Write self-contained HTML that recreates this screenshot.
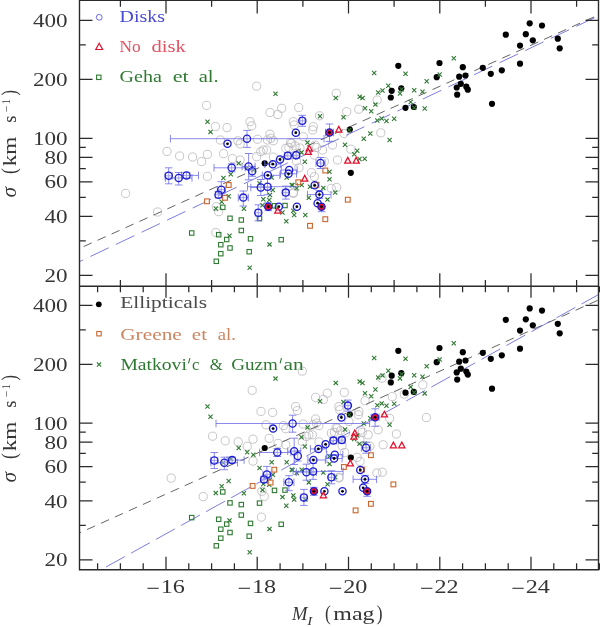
<!DOCTYPE html>
<html><head><meta charset="utf-8"><title>sigma vs M_I</title>
<style>
html,body{margin:0;padding:0;background:#fff;}
body{width:600px;height:627px;overflow:hidden;}
svg{display:block;font-family:"Liberation Serif",serif;}
</style></head><body>
<svg width="600" height="627" viewBox="0 0 600 627">
<rect width="600" height="627" fill="#fff"/>
<defs>
<clipPath id="c1"><rect x="79.5" y="0.4" width="519.0" height="285.8"/></clipPath>
<clipPath id="c2"><rect x="79.5" y="286.2" width="519.0" height="283.50000000000006"/></clipPath>
</defs>
<g clip-path="url(#c1)">
<circle cx="206.6" cy="105.4" r="4.1" fill="none" stroke="#b9b6bb" stroke-width="0.8"/>
<circle cx="215.4" cy="126.6" r="4.1" fill="none" stroke="#b9b6bb" stroke-width="0.8"/>
<circle cx="227.0" cy="127.6" r="4.1" fill="none" stroke="#b9b6bb" stroke-width="0.8"/>
<circle cx="220.4" cy="140.0" r="4.1" fill="none" stroke="#b9b6bb" stroke-width="0.8"/>
<circle cx="167.0" cy="151.4" r="4.1" fill="none" stroke="#b9b6bb" stroke-width="0.8"/>
<circle cx="179.6" cy="156.0" r="4.1" fill="none" stroke="#b9b6bb" stroke-width="0.8"/>
<circle cx="192.6" cy="157.0" r="4.1" fill="none" stroke="#b9b6bb" stroke-width="0.8"/>
<circle cx="207.4" cy="154.4" r="4.1" fill="none" stroke="#b9b6bb" stroke-width="0.8"/>
<circle cx="223.6" cy="153.6" r="4.1" fill="none" stroke="#b9b6bb" stroke-width="0.8"/>
<circle cx="201.6" cy="161.6" r="4.1" fill="none" stroke="#b9b6bb" stroke-width="0.8"/>
<circle cx="207.4" cy="176.4" r="4.1" fill="none" stroke="#b9b6bb" stroke-width="0.8"/>
<circle cx="125.6" cy="193.4" r="4.1" fill="none" stroke="#b9b6bb" stroke-width="0.8"/>
<circle cx="157.6" cy="212.0" r="4.1" fill="none" stroke="#b9b6bb" stroke-width="0.8"/>
<circle cx="256.7" cy="86.2" r="4.1" fill="none" stroke="#b9b6bb" stroke-width="0.8"/>
<circle cx="281.7" cy="108.3" r="4.1" fill="none" stroke="#b9b6bb" stroke-width="0.8"/>
<circle cx="298.7" cy="107.5" r="4.1" fill="none" stroke="#b9b6bb" stroke-width="0.8"/>
<circle cx="270.0" cy="112.5" r="4.1" fill="none" stroke="#b9b6bb" stroke-width="0.8"/>
<circle cx="277.8" cy="114.5" r="4.1" fill="none" stroke="#b9b6bb" stroke-width="0.8"/>
<circle cx="319.5" cy="115.8" r="4.1" fill="none" stroke="#b9b6bb" stroke-width="0.8"/>
<circle cx="250.0" cy="121.7" r="4.1" fill="none" stroke="#b9b6bb" stroke-width="0.8"/>
<circle cx="251.7" cy="125.8" r="4.1" fill="none" stroke="#b9b6bb" stroke-width="0.8"/>
<circle cx="313.3" cy="126.7" r="4.1" fill="none" stroke="#b9b6bb" stroke-width="0.8"/>
<circle cx="294.2" cy="125.0" r="4.1" fill="none" stroke="#b9b6bb" stroke-width="0.8"/>
<circle cx="270.0" cy="134.2" r="4.1" fill="none" stroke="#b9b6bb" stroke-width="0.8"/>
<circle cx="270.8" cy="138.3" r="4.1" fill="none" stroke="#b9b6bb" stroke-width="0.8"/>
<circle cx="267.5" cy="140.0" r="4.1" fill="none" stroke="#b9b6bb" stroke-width="0.8"/>
<circle cx="273.3" cy="140.8" r="4.1" fill="none" stroke="#b9b6bb" stroke-width="0.8"/>
<circle cx="257.5" cy="139.2" r="4.1" fill="none" stroke="#b9b6bb" stroke-width="0.8"/>
<circle cx="237.8" cy="140.8" r="4.1" fill="none" stroke="#b9b6bb" stroke-width="0.8"/>
<circle cx="303.3" cy="136.7" r="4.1" fill="none" stroke="#b9b6bb" stroke-width="0.8"/>
<circle cx="291.7" cy="143.3" r="4.1" fill="none" stroke="#b9b6bb" stroke-width="0.8"/>
<circle cx="295.0" cy="145.8" r="4.1" fill="none" stroke="#b9b6bb" stroke-width="0.8"/>
<circle cx="263.3" cy="150.0" r="4.1" fill="none" stroke="#b9b6bb" stroke-width="0.8"/>
<circle cx="260.8" cy="151.7" r="4.1" fill="none" stroke="#b9b6bb" stroke-width="0.8"/>
<circle cx="256.7" cy="156.7" r="4.1" fill="none" stroke="#b9b6bb" stroke-width="0.8"/>
<circle cx="273.4" cy="157.1" r="4.1" fill="none" stroke="#b9b6bb" stroke-width="0.8"/>
<circle cx="285.8" cy="148.3" r="4.1" fill="none" stroke="#b9b6bb" stroke-width="0.8"/>
<circle cx="316.7" cy="147.5" r="4.1" fill="none" stroke="#b9b6bb" stroke-width="0.8"/>
<circle cx="322.5" cy="150.0" r="4.1" fill="none" stroke="#b9b6bb" stroke-width="0.8"/>
<circle cx="240.2" cy="143.9" r="4.1" fill="none" stroke="#b9b6bb" stroke-width="0.8"/>
<circle cx="232.5" cy="158.6" r="4.1" fill="none" stroke="#b9b6bb" stroke-width="0.8"/>
<circle cx="346.7" cy="111.7" r="4.1" fill="none" stroke="#b9b6bb" stroke-width="0.8"/>
<circle cx="380.8" cy="132.8" r="4.1" fill="none" stroke="#b9b6bb" stroke-width="0.8"/>
<circle cx="332.5" cy="145.0" r="4.1" fill="none" stroke="#b9b6bb" stroke-width="0.8"/>
<circle cx="350.8" cy="149.2" r="4.1" fill="none" stroke="#b9b6bb" stroke-width="0.8"/>
<circle cx="337.5" cy="160.0" r="4.1" fill="none" stroke="#b9b6bb" stroke-width="0.8"/>
<circle cx="336.7" cy="187.5" r="4.1" fill="none" stroke="#b9b6bb" stroke-width="0.8"/>
<circle cx="331.3" cy="188.3" r="4.1" fill="none" stroke="#b9b6bb" stroke-width="0.8"/>
<circle cx="293.3" cy="121.7" r="4.1" fill="none" stroke="#b9b6bb" stroke-width="0.8"/>
<circle cx="336.3" cy="93.3" r="4.1" fill="none" stroke="#b9b6bb" stroke-width="0.8"/>
<circle cx="377.2" cy="100.0" r="4.1" fill="none" stroke="#b9b6bb" stroke-width="0.8"/>
<circle cx="358.7" cy="109.2" r="4.1" fill="none" stroke="#b9b6bb" stroke-width="0.8"/>
<circle cx="218.7" cy="211.7" r="4.1" fill="none" stroke="#b9b6bb" stroke-width="0.8"/>
<circle cx="215.8" cy="232.5" r="4.1" fill="none" stroke="#b9b6bb" stroke-width="0.8"/>
<circle cx="216.3" cy="206.7" r="4.1" fill="none" stroke="#b9b6bb" stroke-width="0.8"/>
<circle cx="293.3" cy="193.3" r="4.1" fill="none" stroke="#b9b6bb" stroke-width="0.8"/>
<circle cx="300.0" cy="148.0" r="4.1" fill="none" stroke="#b9b6bb" stroke-width="0.8"/>
<circle cx="315.0" cy="145.2" r="4.1" fill="none" stroke="#b9b6bb" stroke-width="0.8"/>
<circle cx="314.4" cy="176.7" r="4.1" fill="none" stroke="#b9b6bb" stroke-width="0.8"/>
<circle cx="293.4" cy="192.6" r="4.1" fill="none" stroke="#b9b6bb" stroke-width="0.8"/>
<circle cx="299.0" cy="167.8" r="4.1" fill="none" stroke="#b9b6bb" stroke-width="0.8"/>
<circle cx="311.5" cy="172.6" r="4.1" fill="none" stroke="#b9b6bb" stroke-width="0.8"/>
<circle cx="296.5" cy="161.0" r="4.1" fill="none" stroke="#b9b6bb" stroke-width="0.8"/>
<circle cx="266.7" cy="150.0" r="4.1" fill="none" stroke="#b9b6bb" stroke-width="0.8"/>
<circle cx="288.8" cy="147.5" r="4.1" fill="none" stroke="#b9b6bb" stroke-width="0.8"/>
<circle cx="314.4" cy="155.1" r="4.1" fill="none" stroke="#b9b6bb" stroke-width="0.8"/>
<circle cx="324.3" cy="161.5" r="4.1" fill="none" stroke="#b9b6bb" stroke-width="0.8"/>
<circle cx="344.0" cy="133.5" r="4.1" fill="none" stroke="#b9b6bb" stroke-width="0.8"/>
<circle cx="312.7" cy="130.0" r="4.1" fill="none" stroke="#b9b6bb" stroke-width="0.8"/>
<circle cx="240.2" cy="160.0" r="4.1" fill="none" stroke="#b9b6bb" stroke-width="0.8"/>
<circle cx="290.5" cy="142.8" r="4.1" fill="none" stroke="#b9b6bb" stroke-width="0.8"/>
<line x1="80" y1="248.2" x2="600.5" y2="14.0" stroke="#3c3c3c" stroke-width="0.8" stroke-dasharray="8.8 6.5" stroke-dashoffset="-4"/>
<line x1="80" y1="261.4" x2="600.5" y2="14.9" stroke="#5858d4" stroke-width="0.78" stroke-dasharray="20.3 8" stroke-dashoffset="16.8"/>
<circle cx="529.7" cy="23.3" r="3.1" fill="#000"/>
<circle cx="542.0" cy="25.5" r="3.1" fill="#000"/>
<circle cx="505.8" cy="34.7" r="3.1" fill="#000"/>
<circle cx="525.8" cy="34.2" r="3.1" fill="#000"/>
<circle cx="532.8" cy="40.3" r="3.1" fill="#000"/>
<circle cx="520.0" cy="45.6" r="3.1" fill="#000"/>
<circle cx="557.8" cy="38.7" r="3.1" fill="#000"/>
<circle cx="559.7" cy="48.3" r="3.1" fill="#000"/>
<circle cx="520.0" cy="63.7" r="3.1" fill="#000"/>
<circle cx="501.8" cy="70.3" r="3.1" fill="#000"/>
<circle cx="439.5" cy="63.0" r="3.1" fill="#000"/>
<circle cx="462.8" cy="67.2" r="3.1" fill="#000"/>
<circle cx="482.8" cy="67.8" r="3.1" fill="#000"/>
<circle cx="490.8" cy="73.8" r="3.1" fill="#000"/>
<circle cx="436.7" cy="77.2" r="3.1" fill="#000"/>
<circle cx="459.2" cy="76.7" r="3.1" fill="#000"/>
<circle cx="465.5" cy="75.5" r="3.1" fill="#000"/>
<circle cx="460.8" cy="83.8" r="3.1" fill="#000"/>
<circle cx="456.7" cy="87.5" r="3.1" fill="#000"/>
<circle cx="466.3" cy="86.7" r="3.1" fill="#000"/>
<circle cx="467.8" cy="89.7" r="3.1" fill="#000"/>
<circle cx="457.2" cy="94.7" r="3.1" fill="#000"/>
<circle cx="492.0" cy="103.8" r="3.1" fill="#000"/>
<circle cx="398.3" cy="65.8" r="3.1" fill="#000"/>
<circle cx="391.7" cy="90.8" r="3.1" fill="#000"/>
<circle cx="390.8" cy="97.5" r="3.1" fill="#000"/>
<circle cx="401.3" cy="88.3" r="3.1" fill="#000"/>
<circle cx="405.5" cy="107.8" r="3.1" fill="#000"/>
<circle cx="413.8" cy="107.0" r="3.1" fill="#000"/>
<circle cx="349.8" cy="129.5" r="3.1" fill="#000"/>
<circle cx="350.8" cy="172.8" r="3.1" fill="#000"/>
<circle cx="264.7" cy="163.3" r="3.1" fill="#000"/>
<path d="M205.4 119.6L209.6 123.8M205.4 123.8L209.6 119.6" stroke="#2f7a32" stroke-width="1.1" fill="none"/>
<path d="M208.4 129.8L212.6 134.0M208.4 134.0L212.6 129.8" stroke="#2f7a32" stroke-width="1.1" fill="none"/>
<path d="M221.3 175.9L225.5 180.1M221.3 180.1L225.5 175.9" stroke="#2f7a32" stroke-width="1.1" fill="none"/>
<path d="M236.6 161.2L240.8 165.4M236.6 165.4L240.8 161.2" stroke="#2f7a32" stroke-width="1.1" fill="none"/>
<path d="M228.7 172.1L232.9 176.3M228.7 176.3L232.9 172.1" stroke="#2f7a32" stroke-width="1.1" fill="none"/>
<path d="M226.6 194.2L230.8 198.4M226.6 198.4L230.8 194.2" stroke="#2f7a32" stroke-width="1.1" fill="none"/>
<path d="M219.6 199.6L223.8 203.8M219.6 203.8L223.8 199.6" stroke="#2f7a32" stroke-width="1.1" fill="none"/>
<path d="M257.4 181.2L261.6 185.4M257.4 185.4L261.6 181.2" stroke="#2f7a32" stroke-width="1.1" fill="none"/>
<path d="M269.6 175.4L273.8 179.6M269.6 179.6L273.8 175.4" stroke="#2f7a32" stroke-width="1.1" fill="none"/>
<path d="M270.7 187.9L274.9 192.1M270.7 192.1L274.9 187.9" stroke="#2f7a32" stroke-width="1.1" fill="none"/>
<path d="M267.9 192.9L272.1 197.1M267.9 197.1L272.1 192.9" stroke="#2f7a32" stroke-width="1.1" fill="none"/>
<path d="M261.2 197.2L265.4 201.4M261.2 201.4L265.4 197.2" stroke="#2f7a32" stroke-width="1.1" fill="none"/>
<path d="M267.1 197.9L271.3 202.1M267.1 202.1L271.3 197.9" stroke="#2f7a32" stroke-width="1.1" fill="none"/>
<path d="M284.6 175.4L288.8 179.6M284.6 179.6L288.8 175.4" stroke="#2f7a32" stroke-width="1.1" fill="none"/>
<path d="M290.4 183.2L294.6 187.4M290.4 187.4L294.6 183.2" stroke="#2f7a32" stroke-width="1.1" fill="none"/>
<path d="M294.6 186.1L298.8 190.3M294.6 190.3L298.8 186.1" stroke="#2f7a32" stroke-width="1.1" fill="none"/>
<path d="M251.2 167.9L255.4 172.1M251.2 172.1L255.4 167.9" stroke="#2f7a32" stroke-width="1.1" fill="none"/>
<path d="M245.1 165.4L249.3 169.6M245.1 169.6L249.3 165.4" stroke="#2f7a32" stroke-width="1.1" fill="none"/>
<path d="M213.7 206.4L217.9 210.6M213.7 210.6L217.9 206.4" stroke="#2f7a32" stroke-width="1.1" fill="none"/>
<path d="M241.8 206.6L246.0 210.8M241.8 210.8L246.0 206.6" stroke="#2f7a32" stroke-width="1.1" fill="none"/>
<path d="M317.9 114.2L322.1 118.4M317.9 118.4L322.1 114.2" stroke="#2f7a32" stroke-width="1.1" fill="none"/>
<path d="M341.4 115.1L345.6 119.3M341.4 119.3L345.6 115.1" stroke="#2f7a32" stroke-width="1.1" fill="none"/>
<path d="M369.1 109.2L373.3 113.4M369.1 113.4L373.3 109.2" stroke="#2f7a32" stroke-width="1.1" fill="none"/>
<path d="M375.2 118.4L379.4 122.6M375.2 122.6L379.4 118.4" stroke="#2f7a32" stroke-width="1.1" fill="none"/>
<path d="M379.6 116.4L383.8 120.6M379.6 120.6L383.8 116.4" stroke="#2f7a32" stroke-width="1.1" fill="none"/>
<path d="M384.4 118.9L388.6 123.1M384.4 123.1L388.6 118.9" stroke="#2f7a32" stroke-width="1.1" fill="none"/>
<path d="M368.2 131.4L372.4 135.6M368.2 135.6L372.4 131.4" stroke="#2f7a32" stroke-width="1.1" fill="none"/>
<path d="M361.7 136.6L365.9 140.8M361.7 140.8L365.9 136.6" stroke="#2f7a32" stroke-width="1.1" fill="none"/>
<path d="M387.5 137.9L391.7 142.1M387.5 142.1L391.7 137.9" stroke="#2f7a32" stroke-width="1.1" fill="none"/>
<path d="M342.9 142.6L347.1 146.8M342.9 146.8L347.1 142.6" stroke="#2f7a32" stroke-width="1.1" fill="none"/>
<path d="M355.1 148.7L359.3 152.9M355.1 152.9L359.3 148.7" stroke="#2f7a32" stroke-width="1.1" fill="none"/>
<path d="M352.1 152.1L356.3 156.3M352.1 156.3L356.3 152.1" stroke="#2f7a32" stroke-width="1.1" fill="none"/>
<path d="M357.4 156.9L361.6 161.1M357.4 161.1L361.6 156.9" stroke="#2f7a32" stroke-width="1.1" fill="none"/>
<path d="M362.6 156.7L366.8 160.9M362.6 160.9L366.8 156.7" stroke="#2f7a32" stroke-width="1.1" fill="none"/>
<path d="M305.4 140.5L309.6 144.7M305.4 144.7L309.6 140.5" stroke="#2f7a32" stroke-width="1.1" fill="none"/>
<path d="M299.4 150.3L303.6 154.5M299.4 154.5L303.6 150.3" stroke="#2f7a32" stroke-width="1.1" fill="none"/>
<path d="M302.7 159.7L306.9 163.9M302.7 163.9L306.9 159.7" stroke="#2f7a32" stroke-width="1.1" fill="none"/>
<path d="M327.4 169.6L331.6 173.8M327.4 173.8L331.6 169.6" stroke="#2f7a32" stroke-width="1.1" fill="none"/>
<path d="M327.4 177.1L331.6 181.3M327.4 181.3L331.6 177.1" stroke="#2f7a32" stroke-width="1.1" fill="none"/>
<path d="M321.2 185.8L325.4 190.0M321.2 190.0L325.4 185.8" stroke="#2f7a32" stroke-width="1.1" fill="none"/>
<path d="M333.1 190.4L337.3 194.6M333.1 194.6L337.3 190.4" stroke="#2f7a32" stroke-width="1.1" fill="none"/>
<path d="M325.4 197.5L329.6 201.7M325.4 201.7L329.6 197.5" stroke="#2f7a32" stroke-width="1.1" fill="none"/>
<path d="M306.7 195.6L310.9 199.8M306.7 199.8L310.9 195.6" stroke="#2f7a32" stroke-width="1.1" fill="none"/>
<path d="M307.9 184.6L312.1 188.8M307.9 188.8L312.1 184.6" stroke="#2f7a32" stroke-width="1.1" fill="none"/>
<path d="M299.6 182.9L303.8 187.1M299.6 187.1L303.8 182.9" stroke="#2f7a32" stroke-width="1.1" fill="none"/>
<path d="M289.6 182.9L293.8 187.1M289.6 187.1L293.8 182.9" stroke="#2f7a32" stroke-width="1.1" fill="none"/>
<path d="M260.4 203.2L264.6 207.4M260.4 207.4L264.6 203.2" stroke="#2f7a32" stroke-width="1.1" fill="none"/>
<path d="M227.4 233.7L231.6 237.9M227.4 237.9L231.6 233.7" stroke="#2f7a32" stroke-width="1.1" fill="none"/>
<path d="M247.6 265.7L251.8 269.9M247.6 269.9L251.8 265.7" stroke="#2f7a32" stroke-width="1.1" fill="none"/>
<path d="M267.4 242.3L271.6 246.5M267.4 246.5L271.6 242.3" stroke="#2f7a32" stroke-width="1.1" fill="none"/>
<path d="M284.2 219.1L288.4 223.3M284.2 223.3L288.4 219.1" stroke="#2f7a32" stroke-width="1.1" fill="none"/>
<path d="M303.2 212.9L307.4 217.1M303.2 217.1L307.4 212.9" stroke="#2f7a32" stroke-width="1.1" fill="none"/>
<path d="M292.1 212.9L296.3 217.1M292.1 217.1L296.3 212.9" stroke="#2f7a32" stroke-width="1.1" fill="none"/>
<path d="M291.2 208.7L295.4 212.9M291.2 212.9L295.4 208.7" stroke="#2f7a32" stroke-width="1.1" fill="none"/>
<path d="M280.4 210.4L284.6 214.6M280.4 214.6L284.6 210.4" stroke="#2f7a32" stroke-width="1.1" fill="none"/>
<path d="M372.1 70.9L376.3 75.1M372.1 75.1L376.3 70.9" stroke="#2f7a32" stroke-width="1.1" fill="none"/>
<path d="M403.4 71.6L407.6 75.8M403.4 75.8L407.6 71.6" stroke="#2f7a32" stroke-width="1.1" fill="none"/>
<path d="M424.6 79.2L428.8 83.4M424.6 83.4L428.8 79.2" stroke="#2f7a32" stroke-width="1.1" fill="none"/>
<path d="M386.2 83.7L390.4 87.9M386.2 87.9L390.4 83.7" stroke="#2f7a32" stroke-width="1.1" fill="none"/>
<path d="M380.4 88.4L384.6 92.6M380.4 92.6L384.6 88.4" stroke="#2f7a32" stroke-width="1.1" fill="none"/>
<path d="M376.1 90.4L380.3 94.6M376.1 94.6L380.3 90.4" stroke="#2f7a32" stroke-width="1.1" fill="none"/>
<path d="M412.1 88.2L416.3 92.4M412.1 92.4L416.3 88.2" stroke="#2f7a32" stroke-width="1.1" fill="none"/>
<path d="M420.4 89.7L424.6 93.9M420.4 93.9L424.6 89.7" stroke="#2f7a32" stroke-width="1.1" fill="none"/>
<path d="M399.6 87.1L403.8 91.3M399.6 91.3L403.8 87.1" stroke="#2f7a32" stroke-width="1.1" fill="none"/>
<path d="M397.9 91.4L402.1 95.6M397.9 95.6L402.1 91.4" stroke="#2f7a32" stroke-width="1.1" fill="none"/>
<path d="M357.6 94.6L361.8 98.8M357.6 98.8L361.8 94.6" stroke="#2f7a32" stroke-width="1.1" fill="none"/>
<path d="M360.4 96.0L364.6 100.2M360.4 100.2L364.6 96.0" stroke="#2f7a32" stroke-width="1.1" fill="none"/>
<path d="M333.7 95.9L337.9 100.1M333.7 100.1L337.9 95.9" stroke="#2f7a32" stroke-width="1.1" fill="none"/>
<path d="M408.6 99.9L412.8 104.1M408.6 104.1L412.8 99.9" stroke="#2f7a32" stroke-width="1.1" fill="none"/>
<path d="M373.3 102.5L377.5 106.7M373.3 106.7L377.5 102.5" stroke="#2f7a32" stroke-width="1.1" fill="none"/>
<path d="M362.9 106.2L367.1 110.4M362.9 110.4L367.1 106.2" stroke="#2f7a32" stroke-width="1.1" fill="none"/>
<path d="M422.6 106.4L426.8 110.6M422.6 110.6L426.8 106.4" stroke="#2f7a32" stroke-width="1.1" fill="none"/>
<path d="M412.1 105.6L416.3 109.8M412.1 109.8L416.3 105.6" stroke="#2f7a32" stroke-width="1.1" fill="none"/>
<path d="M392.1 116.7L396.3 120.9M392.1 120.9L396.3 116.7" stroke="#2f7a32" stroke-width="1.1" fill="none"/>
<path d="M451.7 56.2L455.9 60.4M451.7 60.4L455.9 56.2" stroke="#2f7a32" stroke-width="1.1" fill="none"/>
<path d="M437.6 72.4L441.8 76.6M437.6 76.6L441.8 72.4" stroke="#2f7a32" stroke-width="1.1" fill="none"/>
<path d="M273.4 91.6L277.6 95.8M273.4 95.8L277.6 91.6" stroke="#2f7a32" stroke-width="1.1" fill="none"/>
<path d="M347.1 127.9L351.3 132.1M347.1 132.1L351.3 127.9" stroke="#2f7a32" stroke-width="1.1" fill="none"/>
<rect x="189.5" y="230.8" width="4.4" height="4.4" fill="none" stroke="#2f7a32" stroke-width="1.1"/>
<rect x="220.6" y="205.1" width="4.4" height="4.4" fill="none" stroke="#2f7a32" stroke-width="1.1"/>
<rect x="227.8" y="216.1" width="4.4" height="4.4" fill="none" stroke="#2f7a32" stroke-width="1.1"/>
<rect x="239.1" y="217.8" width="4.4" height="4.4" fill="none" stroke="#2f7a32" stroke-width="1.1"/>
<rect x="257.3" y="216.3" width="4.4" height="4.4" fill="none" stroke="#2f7a32" stroke-width="1.1"/>
<rect x="239.1" y="228.3" width="4.4" height="4.4" fill="none" stroke="#2f7a32" stroke-width="1.1"/>
<rect x="216.5" y="232.5" width="4.4" height="4.4" fill="none" stroke="#2f7a32" stroke-width="1.1"/>
<rect x="224.5" y="237.3" width="4.4" height="4.4" fill="none" stroke="#2f7a32" stroke-width="1.1"/>
<rect x="248.3" y="236.6" width="4.4" height="4.4" fill="none" stroke="#2f7a32" stroke-width="1.1"/>
<rect x="218.6" y="242.5" width="4.4" height="4.4" fill="none" stroke="#2f7a32" stroke-width="1.1"/>
<rect x="227.8" y="245.8" width="4.4" height="4.4" fill="none" stroke="#2f7a32" stroke-width="1.1"/>
<rect x="247.0" y="249.5" width="4.4" height="4.4" fill="none" stroke="#2f7a32" stroke-width="1.1"/>
<rect x="218.6" y="251.5" width="4.4" height="4.4" fill="none" stroke="#2f7a32" stroke-width="1.1"/>
<rect x="214.1" y="259.1" width="4.4" height="4.4" fill="none" stroke="#2f7a32" stroke-width="1.1"/>
<rect x="272.3" y="203.6" width="4.4" height="4.4" fill="none" stroke="#2f7a32" stroke-width="1.1"/>
<rect x="282.8" y="203.3" width="4.4" height="4.4" fill="none" stroke="#2f7a32" stroke-width="1.1"/>
<rect x="279.0" y="237.5" width="4.4" height="4.4" fill="none" stroke="#2f7a32" stroke-width="1.1"/>
<rect x="226.3" y="182.6" width="4.8" height="4.8" fill="#fffaf4" stroke="#c8662e" stroke-width="1.1"/>
<rect x="222.6" y="195.4" width="4.8" height="4.8" fill="#fffaf4" stroke="#c8662e" stroke-width="1.1"/>
<rect x="204.6" y="198.9" width="4.8" height="4.8" fill="#fffaf4" stroke="#c8662e" stroke-width="1.1"/>
<rect x="295.9" y="179.9" width="4.8" height="4.8" fill="#fffaf4" stroke="#c8662e" stroke-width="1.1"/>
<rect x="322.9" y="168.1" width="4.8" height="4.8" fill="#fffaf4" stroke="#c8662e" stroke-width="1.1"/>
<rect x="345.4" y="197.3" width="4.8" height="4.8" fill="#fffaf4" stroke="#c8662e" stroke-width="1.1"/>
<rect x="314.1" y="182.4" width="4.8" height="4.8" fill="#fffaf4" stroke="#c8662e" stroke-width="1.1"/>
<rect x="322.9" y="216.8" width="4.8" height="4.8" fill="#fffaf4" stroke="#c8662e" stroke-width="1.1"/>
<rect x="307.6" y="223.4" width="4.8" height="4.8" fill="#fffaf4" stroke="#c8662e" stroke-width="1.1"/>
<path d="M165.2 175.8L172.2 175.8M165.2 172.0L165.2 179.6M172.2 172.0L172.2 179.6M168.7 167.8L168.7 183.8M164.9 167.8L172.5 167.8M164.9 183.8L172.5 183.8" stroke="#6c6ce6" stroke-width="0.8" fill="none"/>
<path d="M165.4 178.0L192.0 178.0M165.4 174.2L165.4 181.8M192.0 174.2L192.0 181.8M178.7 172.5L178.7 185.0M174.9 172.5L182.5 172.5M174.9 185.0L182.5 185.0" stroke="#6c6ce6" stroke-width="0.8" fill="none"/>
<path d="M181.5 175.4L198.5 175.4M181.5 171.6L181.5 179.2M198.5 171.6L198.5 179.2M186.5 172.4L186.5 178.4M182.7 172.4L190.3 172.4M182.7 178.4L190.3 178.4" stroke="#6c6ce6" stroke-width="0.8" fill="none"/>
<path d="M170.4 138.7L324.0 138.7M170.4 134.9L170.4 142.5M324.0 134.9L324.0 142.5M247.0 130.4L247.0 147.4M243.2 130.4L250.8 130.4M243.2 147.4L250.8 147.4" stroke="#6c6ce6" stroke-width="0.8" fill="none"/>
<path d="M214.0 167.8L245.2 167.8M214.0 164.0L214.0 171.6M245.2 164.0L245.2 171.6M231.7 163.8L231.7 171.8M227.9 163.8L235.5 163.8M227.9 171.8L235.5 171.8" stroke="#6c6ce6" stroke-width="0.8" fill="none"/>
<path d="M242.1 166.5L255.1 166.5M242.1 162.7L242.1 170.3M255.1 162.7L255.1 170.3M248.6 153.5L248.6 179.8M244.8 153.5L252.4 153.5M244.8 179.8L252.4 179.8" stroke="#6c6ce6" stroke-width="0.8" fill="none"/>
<path d="M252.2 166.3L252.2 176.3M248.4 166.3L256.0 166.3M248.4 176.3L256.0 176.3" stroke="#6c6ce6" stroke-width="0.8" fill="none"/>
<path d="M264.8 164.2L280.8 164.2M264.8 160.4L264.8 168.0M280.8 160.4L280.8 168.0" stroke="#6c6ce6" stroke-width="0.8" fill="none"/>
<path d="M284.8 155.8L290.8 155.8M284.8 152.0L284.8 159.6M290.8 152.0L290.8 159.6M287.8 152.8L287.8 158.8M284.0 152.8L291.6 152.8M284.0 158.8L291.6 158.8" stroke="#6c6ce6" stroke-width="0.8" fill="none"/>
<path d="M293.2 155.3L299.2 155.3M293.2 151.5L293.2 159.1M299.2 151.5L299.2 159.1M296.2 152.3L296.2 158.3M292.4 152.3L300.0 152.3M292.4 158.3L300.0 158.3" stroke="#6c6ce6" stroke-width="0.8" fill="none"/>
<path d="M262.3 175.3L279.8 175.3M262.3 171.5L262.3 179.1M279.8 171.5L279.8 179.1" stroke="#6c6ce6" stroke-width="0.8" fill="none"/>
<path d="M281.2 170.0L297.2 170.0M281.2 166.2L281.2 173.8M297.2 166.2L297.2 173.8" stroke="#6c6ce6" stroke-width="0.8" fill="none"/>
<path d="M280.5 173.8L296.5 173.8M280.5 170.0L280.5 177.6M296.5 170.0L296.5 177.6" stroke="#6c6ce6" stroke-width="0.8" fill="none"/>
<path d="M250.8 187.5L270.8 187.5M250.8 183.7L250.8 191.3M270.8 183.7L270.8 191.3M260.8 179.5L260.8 195.5M257.0 179.5L264.6 179.5M257.0 195.5L264.6 195.5" stroke="#6c6ce6" stroke-width="0.8" fill="none"/>
<path d="M247.5 186.7L297.5 186.7M247.5 182.9L247.5 190.5M297.5 182.9L297.5 190.5M267.5 178.7L267.5 194.7M263.7 178.7L271.3 178.7M263.7 194.7L271.3 194.7" stroke="#6c6ce6" stroke-width="0.8" fill="none"/>
<path d="M282.8 192.6L288.8 192.6M282.8 188.8L282.8 196.4M288.8 188.8L288.8 196.4M285.8 186.1L285.8 199.1M282.0 186.1L289.6 186.1M282.0 199.1L289.6 199.1" stroke="#6c6ce6" stroke-width="0.8" fill="none"/>
<path d="M238.3 197.6L248.3 197.6M238.3 193.8L238.3 201.4M248.3 193.8L248.3 201.4M243.3 191.0L243.3 206.0M239.5 191.0L247.1 191.0M239.5 206.0L247.1 206.0" stroke="#6c6ce6" stroke-width="0.8" fill="none"/>
<path d="M217.3 189.7L225.3 189.7M217.3 185.9L217.3 193.5M225.3 185.9L225.3 193.5M221.3 181.7L221.3 193.7M217.5 181.7L225.1 181.7M217.5 193.7L225.1 193.7" stroke="#6c6ce6" stroke-width="0.8" fill="none"/>
<path d="M215.5 194.7L221.5 194.7M215.5 190.9L215.5 198.5M221.5 190.9L221.5 198.5M218.5 191.7L218.5 197.7M214.7 191.7L222.3 191.7M214.7 197.7L222.3 197.7" stroke="#6c6ce6" stroke-width="0.8" fill="none"/>
<path d="M268.3 202.7L268.3 210.7M264.5 202.7L272.1 202.7M264.5 210.7L272.1 210.7" stroke="#6c6ce6" stroke-width="0.8" fill="none"/>
<path d="M299.8 120.8L304.8 120.8M299.8 117.0L299.8 124.6M304.8 117.0L304.8 124.6M302.3 115.3L302.3 126.3M298.5 115.3L306.1 115.3M298.5 126.3L306.1 126.3" stroke="#6c6ce6" stroke-width="0.8" fill="none"/>
<path d="M325.5 132.5L333.5 132.5M325.5 128.7L325.5 136.3M333.5 128.7L333.5 136.3M329.5 124.0L329.5 141.5M325.7 124.0L333.3 124.0M325.7 141.5L333.3 141.5" stroke="#6c6ce6" stroke-width="0.8" fill="none"/>
<path d="M316.0 163.0L325.0 163.0M316.0 159.2L316.0 166.8M325.0 159.2L325.0 166.8M320.5 157.5L320.5 168.5M316.7 157.5L324.3 157.5M316.7 168.5L324.3 168.5" stroke="#6c6ce6" stroke-width="0.8" fill="none"/>
<path d="M307.5 194.6L331.0 194.6M307.5 190.8L307.5 198.4M331.0 190.8L331.0 198.4M319.4 190.6L319.4 198.6M315.6 190.6L323.2 190.6M315.6 198.6L323.2 198.6" stroke="#6c6ce6" stroke-width="0.8" fill="none"/>
<path d="M321.5 206.7L321.5 211.7M317.7 206.7L325.3 206.7M317.7 211.7L325.3 211.7" stroke="#6c6ce6" stroke-width="0.8" fill="none"/>
<path d="M255.3 212.8L261.3 212.8M255.3 209.0L255.3 216.6M261.3 209.0L261.3 216.6M258.3 204.8L258.3 220.8M254.5 204.8L262.1 204.8M254.5 220.8L262.1 220.8" stroke="#6c6ce6" stroke-width="0.8" fill="none"/>
<circle cx="168.7" cy="175.8" r="3.6" fill="#e8e8ff" fill-opacity="0.3" stroke="#1c1cd0" stroke-width="1.3"/>
<circle cx="178.7" cy="178.0" r="3.6" fill="#e8e8ff" fill-opacity="0.3" stroke="#1c1cd0" stroke-width="1.3"/>
<circle cx="186.5" cy="175.4" r="3.6" fill="#e8e8ff" fill-opacity="0.3" stroke="#1c1cd0" stroke-width="1.3"/>
<circle cx="227.5" cy="143.8" r="3.6" fill="#e8e8ff" fill-opacity="0.3" stroke="#1c1cd0" stroke-width="1.3"/>
<circle cx="227.5" cy="143.8" r="1.4" fill="#000"/>
<circle cx="247.0" cy="138.7" r="3.6" fill="#e8e8ff" fill-opacity="0.3" stroke="#1c1cd0" stroke-width="1.3"/>
<circle cx="295.8" cy="132.7" r="3.6" fill="#e8e8ff" fill-opacity="0.3" stroke="#1c1cd0" stroke-width="1.3"/>
<circle cx="295.8" cy="132.7" r="1.4" fill="#000"/>
<circle cx="231.7" cy="167.8" r="3.6" fill="#e8e8ff" fill-opacity="0.3" stroke="#1c1cd0" stroke-width="1.3"/>
<circle cx="248.6" cy="166.5" r="3.6" fill="#e8e8ff" fill-opacity="0.3" stroke="#1c1cd0" stroke-width="1.3"/>
<circle cx="252.2" cy="171.3" r="3.6" fill="#e8e8ff" fill-opacity="0.3" stroke="#1c1cd0" stroke-width="1.3"/>
<circle cx="272.8" cy="164.2" r="3.6" fill="#e8e8ff" fill-opacity="0.3" stroke="#1c1cd0" stroke-width="1.3"/>
<circle cx="272.8" cy="164.2" r="1.4" fill="#000"/>
<circle cx="280.0" cy="159.5" r="3.6" fill="#e8e8ff" fill-opacity="0.3" stroke="#1c1cd0" stroke-width="1.3"/>
<circle cx="280.0" cy="159.5" r="1.4" fill="#000"/>
<circle cx="287.8" cy="155.8" r="3.6" fill="#e8e8ff" fill-opacity="0.3" stroke="#1c1cd0" stroke-width="1.3"/>
<circle cx="296.2" cy="155.3" r="3.6" fill="#e8e8ff" fill-opacity="0.3" stroke="#1c1cd0" stroke-width="1.3"/>
<circle cx="267.8" cy="175.3" r="3.6" fill="#e8e8ff" fill-opacity="0.3" stroke="#1c1cd0" stroke-width="1.3"/>
<circle cx="267.8" cy="175.3" r="1.4" fill="#000"/>
<circle cx="289.2" cy="170.0" r="3.6" fill="#e8e8ff" fill-opacity="0.3" stroke="#1c1cd0" stroke-width="1.3"/>
<circle cx="288.5" cy="173.8" r="3.6" fill="#e8e8ff" fill-opacity="0.3" stroke="#1c1cd0" stroke-width="1.3"/>
<circle cx="288.5" cy="173.8" r="1.4" fill="#000"/>
<circle cx="260.8" cy="187.5" r="3.6" fill="#e8e8ff" fill-opacity="0.3" stroke="#1c1cd0" stroke-width="1.3"/>
<circle cx="267.5" cy="186.7" r="3.6" fill="#e8e8ff" fill-opacity="0.3" stroke="#1c1cd0" stroke-width="1.3"/>
<circle cx="285.8" cy="192.6" r="3.6" fill="#e8e8ff" fill-opacity="0.3" stroke="#1c1cd0" stroke-width="1.3"/>
<circle cx="243.3" cy="197.6" r="3.6" fill="#e8e8ff" fill-opacity="0.3" stroke="#1c1cd0" stroke-width="1.3"/>
<circle cx="221.3" cy="189.7" r="3.6" fill="#e8e8ff" fill-opacity="0.3" stroke="#1c1cd0" stroke-width="1.3"/>
<circle cx="218.5" cy="194.7" r="3.6" fill="#e8e8ff" fill-opacity="0.3" stroke="#1c1cd0" stroke-width="1.3"/>
<circle cx="268.3" cy="206.7" r="3.6" fill="#e0122e" fill-opacity="1" stroke="#1c1cd0" stroke-width="1.3"/>
<circle cx="268.3" cy="206.7" r="1.4" fill="#000"/>
<circle cx="296.9" cy="206.7" r="3.6" fill="#e8e8ff" fill-opacity="0.3" stroke="#1c1cd0" stroke-width="1.3"/>
<circle cx="296.9" cy="206.7" r="1.4" fill="#000"/>
<circle cx="278.8" cy="206.7" r="3.6" fill="#e8e8ff" fill-opacity="0.3" stroke="#1c1cd0" stroke-width="1.3"/>
<circle cx="278.8" cy="206.7" r="1.4" fill="#000"/>
<circle cx="302.3" cy="120.8" r="3.6" fill="#e8e8ff" fill-opacity="0.3" stroke="#1c1cd0" stroke-width="1.3"/>
<circle cx="329.5" cy="132.5" r="3.6" fill="#e0122e" fill-opacity="1" stroke="#1c1cd0" stroke-width="1.3"/>
<circle cx="329.5" cy="132.5" r="1.4" fill="#000"/>
<circle cx="320.5" cy="163.0" r="3.6" fill="#e8e8ff" fill-opacity="0.3" stroke="#1c1cd0" stroke-width="1.3"/>
<circle cx="314.7" cy="185.3" r="3.6" fill="#e8e8ff" fill-opacity="0.3" stroke="#1c1cd0" stroke-width="1.3"/>
<circle cx="314.7" cy="185.3" r="1.4" fill="#000"/>
<circle cx="319.4" cy="194.6" r="3.6" fill="#e8e8ff" fill-opacity="0.3" stroke="#1c1cd0" stroke-width="1.3"/>
<circle cx="319.4" cy="194.6" r="1.4" fill="#000"/>
<circle cx="317.6" cy="203.2" r="3.6" fill="#e8e8ff" fill-opacity="0.3" stroke="#1c1cd0" stroke-width="1.3"/>
<circle cx="317.6" cy="203.2" r="1.4" fill="#000"/>
<circle cx="321.5" cy="206.7" r="3.6" fill="#e0122e" fill-opacity="1" stroke="#1c1cd0" stroke-width="1.3"/>
<circle cx="321.5" cy="206.7" r="1.4" fill="#000"/>
<circle cx="258.3" cy="212.8" r="3.6" fill="#e8e8ff" fill-opacity="0.3" stroke="#1c1cd0" stroke-width="1.3"/>
<path d="M338.8 126.4L341.9 132.1L335.7 132.1Z" fill="#fff0f0" fill-opacity="0.6" stroke="#e0122e" stroke-width="1.25" stroke-linejoin="miter"/>
<path d="M309.2 145.2L312.3 150.9L306.1 150.9Z" fill="#fff0f0" fill-opacity="0.6" stroke="#e0122e" stroke-width="1.25" stroke-linejoin="miter"/>
<path d="M308.3 148.7L311.4 154.4L305.2 154.4Z" fill="#fff0f0" fill-opacity="0.6" stroke="#e0122e" stroke-width="1.25" stroke-linejoin="miter"/>
<path d="M347.8 157.4L350.9 163.1L344.7 163.1Z" fill="#fff0f0" fill-opacity="0.6" stroke="#e0122e" stroke-width="1.25" stroke-linejoin="miter"/>
<path d="M356.2 157.4L359.3 163.1L353.1 163.1Z" fill="#fff0f0" fill-opacity="0.6" stroke="#e0122e" stroke-width="1.25" stroke-linejoin="miter"/>
<path d="M304.7 175.4L307.8 181.1L301.6 181.1Z" fill="#fff0f0" fill-opacity="0.6" stroke="#e0122e" stroke-width="1.25" stroke-linejoin="miter"/>
<path d="M277.8 207.5L280.9 213.2L274.7 213.2Z" fill="#fff0f0" fill-opacity="0.6" stroke="#e0122e" stroke-width="1.25" stroke-linejoin="miter"/>
</g>
<g clip-path="url(#c2)">
<circle cx="252.2" cy="390.3" r="4.1" fill="none" stroke="#b9b6bb" stroke-width="0.8"/>
<circle cx="261.0" cy="411.4" r="4.1" fill="none" stroke="#b9b6bb" stroke-width="0.8"/>
<circle cx="272.6" cy="412.4" r="4.1" fill="none" stroke="#b9b6bb" stroke-width="0.8"/>
<circle cx="266.0" cy="424.8" r="4.1" fill="none" stroke="#b9b6bb" stroke-width="0.8"/>
<circle cx="212.6" cy="436.2" r="4.1" fill="none" stroke="#b9b6bb" stroke-width="0.8"/>
<circle cx="225.2" cy="440.8" r="4.1" fill="none" stroke="#b9b6bb" stroke-width="0.8"/>
<circle cx="238.2" cy="441.8" r="4.1" fill="none" stroke="#b9b6bb" stroke-width="0.8"/>
<circle cx="253.0" cy="439.2" r="4.1" fill="none" stroke="#b9b6bb" stroke-width="0.8"/>
<circle cx="269.2" cy="438.4" r="4.1" fill="none" stroke="#b9b6bb" stroke-width="0.8"/>
<circle cx="247.2" cy="446.3" r="4.1" fill="none" stroke="#b9b6bb" stroke-width="0.8"/>
<circle cx="253.0" cy="461.1" r="4.1" fill="none" stroke="#b9b6bb" stroke-width="0.8"/>
<circle cx="171.2" cy="478.1" r="4.1" fill="none" stroke="#b9b6bb" stroke-width="0.8"/>
<circle cx="203.2" cy="496.6" r="4.1" fill="none" stroke="#b9b6bb" stroke-width="0.8"/>
<circle cx="302.3" cy="371.1" r="4.1" fill="none" stroke="#b9b6bb" stroke-width="0.8"/>
<circle cx="327.3" cy="393.2" r="4.1" fill="none" stroke="#b9b6bb" stroke-width="0.8"/>
<circle cx="344.3" cy="392.4" r="4.1" fill="none" stroke="#b9b6bb" stroke-width="0.8"/>
<circle cx="315.6" cy="397.4" r="4.1" fill="none" stroke="#b9b6bb" stroke-width="0.8"/>
<circle cx="323.4" cy="399.4" r="4.1" fill="none" stroke="#b9b6bb" stroke-width="0.8"/>
<circle cx="365.1" cy="400.7" r="4.1" fill="none" stroke="#b9b6bb" stroke-width="0.8"/>
<circle cx="295.6" cy="406.5" r="4.1" fill="none" stroke="#b9b6bb" stroke-width="0.8"/>
<circle cx="297.3" cy="410.6" r="4.1" fill="none" stroke="#b9b6bb" stroke-width="0.8"/>
<circle cx="358.9" cy="411.5" r="4.1" fill="none" stroke="#b9b6bb" stroke-width="0.8"/>
<circle cx="339.8" cy="409.8" r="4.1" fill="none" stroke="#b9b6bb" stroke-width="0.8"/>
<circle cx="315.6" cy="419.0" r="4.1" fill="none" stroke="#b9b6bb" stroke-width="0.8"/>
<circle cx="316.4" cy="423.1" r="4.1" fill="none" stroke="#b9b6bb" stroke-width="0.8"/>
<circle cx="313.1" cy="424.8" r="4.1" fill="none" stroke="#b9b6bb" stroke-width="0.8"/>
<circle cx="318.9" cy="425.6" r="4.1" fill="none" stroke="#b9b6bb" stroke-width="0.8"/>
<circle cx="303.1" cy="424.0" r="4.1" fill="none" stroke="#b9b6bb" stroke-width="0.8"/>
<circle cx="283.4" cy="425.6" r="4.1" fill="none" stroke="#b9b6bb" stroke-width="0.8"/>
<circle cx="348.9" cy="421.5" r="4.1" fill="none" stroke="#b9b6bb" stroke-width="0.8"/>
<circle cx="337.3" cy="428.1" r="4.1" fill="none" stroke="#b9b6bb" stroke-width="0.8"/>
<circle cx="340.6" cy="430.6" r="4.1" fill="none" stroke="#b9b6bb" stroke-width="0.8"/>
<circle cx="308.9" cy="434.8" r="4.1" fill="none" stroke="#b9b6bb" stroke-width="0.8"/>
<circle cx="306.4" cy="436.5" r="4.1" fill="none" stroke="#b9b6bb" stroke-width="0.8"/>
<circle cx="302.3" cy="441.5" r="4.1" fill="none" stroke="#b9b6bb" stroke-width="0.8"/>
<circle cx="319.0" cy="441.9" r="4.1" fill="none" stroke="#b9b6bb" stroke-width="0.8"/>
<circle cx="331.4" cy="433.1" r="4.1" fill="none" stroke="#b9b6bb" stroke-width="0.8"/>
<circle cx="362.3" cy="432.3" r="4.1" fill="none" stroke="#b9b6bb" stroke-width="0.8"/>
<circle cx="368.1" cy="434.8" r="4.1" fill="none" stroke="#b9b6bb" stroke-width="0.8"/>
<circle cx="285.8" cy="428.7" r="4.1" fill="none" stroke="#b9b6bb" stroke-width="0.8"/>
<circle cx="278.1" cy="443.4" r="4.1" fill="none" stroke="#b9b6bb" stroke-width="0.8"/>
<circle cx="392.3" cy="396.6" r="4.1" fill="none" stroke="#b9b6bb" stroke-width="0.8"/>
<circle cx="426.4" cy="417.6" r="4.1" fill="none" stroke="#b9b6bb" stroke-width="0.8"/>
<circle cx="378.1" cy="429.8" r="4.1" fill="none" stroke="#b9b6bb" stroke-width="0.8"/>
<circle cx="396.4" cy="434.0" r="4.1" fill="none" stroke="#b9b6bb" stroke-width="0.8"/>
<circle cx="383.1" cy="444.8" r="4.1" fill="none" stroke="#b9b6bb" stroke-width="0.8"/>
<circle cx="382.3" cy="472.2" r="4.1" fill="none" stroke="#b9b6bb" stroke-width="0.8"/>
<circle cx="376.9" cy="473.0" r="4.1" fill="none" stroke="#b9b6bb" stroke-width="0.8"/>
<circle cx="338.9" cy="406.5" r="4.1" fill="none" stroke="#b9b6bb" stroke-width="0.8"/>
<circle cx="381.9" cy="378.2" r="4.1" fill="none" stroke="#b9b6bb" stroke-width="0.8"/>
<circle cx="422.8" cy="384.9" r="4.1" fill="none" stroke="#b9b6bb" stroke-width="0.8"/>
<circle cx="404.3" cy="394.1" r="4.1" fill="none" stroke="#b9b6bb" stroke-width="0.8"/>
<circle cx="264.3" cy="496.3" r="4.1" fill="none" stroke="#b9b6bb" stroke-width="0.8"/>
<circle cx="261.4" cy="517.1" r="4.1" fill="none" stroke="#b9b6bb" stroke-width="0.8"/>
<circle cx="261.9" cy="491.3" r="4.1" fill="none" stroke="#b9b6bb" stroke-width="0.8"/>
<circle cx="338.9" cy="478.0" r="4.1" fill="none" stroke="#b9b6bb" stroke-width="0.8"/>
<circle cx="345.6" cy="432.8" r="4.1" fill="none" stroke="#b9b6bb" stroke-width="0.8"/>
<circle cx="360.6" cy="430.0" r="4.1" fill="none" stroke="#b9b6bb" stroke-width="0.8"/>
<circle cx="360.0" cy="461.4" r="4.1" fill="none" stroke="#b9b6bb" stroke-width="0.8"/>
<circle cx="339.0" cy="477.3" r="4.1" fill="none" stroke="#b9b6bb" stroke-width="0.8"/>
<circle cx="344.6" cy="452.5" r="4.1" fill="none" stroke="#b9b6bb" stroke-width="0.8"/>
<circle cx="357.1" cy="457.3" r="4.1" fill="none" stroke="#b9b6bb" stroke-width="0.8"/>
<circle cx="342.1" cy="445.7" r="4.1" fill="none" stroke="#b9b6bb" stroke-width="0.8"/>
<circle cx="312.3" cy="434.8" r="4.1" fill="none" stroke="#b9b6bb" stroke-width="0.8"/>
<circle cx="334.4" cy="432.3" r="4.1" fill="none" stroke="#b9b6bb" stroke-width="0.8"/>
<circle cx="360.0" cy="439.9" r="4.1" fill="none" stroke="#b9b6bb" stroke-width="0.8"/>
<circle cx="369.9" cy="446.2" r="4.1" fill="none" stroke="#b9b6bb" stroke-width="0.8"/>
<circle cx="389.6" cy="418.3" r="4.1" fill="none" stroke="#b9b6bb" stroke-width="0.8"/>
<circle cx="358.3" cy="414.8" r="4.1" fill="none" stroke="#b9b6bb" stroke-width="0.8"/>
<circle cx="285.8" cy="444.8" r="4.1" fill="none" stroke="#b9b6bb" stroke-width="0.8"/>
<circle cx="336.1" cy="427.6" r="4.1" fill="none" stroke="#b9b6bb" stroke-width="0.8"/>
<line x1="80" y1="532.7" x2="600.5" y2="299.1" stroke="#3c3c3c" stroke-width="0.8" stroke-dasharray="8.8 6.5" stroke-dashoffset="-7.7"/>
<line x1="106" y1="567.0" x2="600.5" y2="293.5" stroke="#5858d4" stroke-width="0.78" stroke-dasharray="21.5 7.1"/>
<circle cx="529.7" cy="308.4" r="3.1" fill="#000"/>
<circle cx="542.0" cy="310.6" r="3.1" fill="#000"/>
<circle cx="505.8" cy="319.8" r="3.1" fill="#000"/>
<circle cx="525.8" cy="319.3" r="3.1" fill="#000"/>
<circle cx="532.8" cy="325.3" r="3.1" fill="#000"/>
<circle cx="520.0" cy="330.6" r="3.1" fill="#000"/>
<circle cx="557.8" cy="323.8" r="3.1" fill="#000"/>
<circle cx="559.7" cy="333.3" r="3.1" fill="#000"/>
<circle cx="520.0" cy="348.7" r="3.1" fill="#000"/>
<circle cx="501.8" cy="355.3" r="3.1" fill="#000"/>
<circle cx="439.5" cy="348.0" r="3.1" fill="#000"/>
<circle cx="462.8" cy="352.2" r="3.1" fill="#000"/>
<circle cx="482.8" cy="352.8" r="3.1" fill="#000"/>
<circle cx="490.8" cy="358.8" r="3.1" fill="#000"/>
<circle cx="436.7" cy="362.2" r="3.1" fill="#000"/>
<circle cx="459.2" cy="361.7" r="3.1" fill="#000"/>
<circle cx="465.5" cy="360.5" r="3.1" fill="#000"/>
<circle cx="460.8" cy="368.7" r="3.1" fill="#000"/>
<circle cx="456.7" cy="372.4" r="3.1" fill="#000"/>
<circle cx="466.3" cy="371.6" r="3.1" fill="#000"/>
<circle cx="467.8" cy="374.6" r="3.1" fill="#000"/>
<circle cx="457.2" cy="379.6" r="3.1" fill="#000"/>
<circle cx="492.0" cy="388.7" r="3.1" fill="#000"/>
<circle cx="398.3" cy="350.8" r="3.1" fill="#000"/>
<circle cx="391.7" cy="375.7" r="3.1" fill="#000"/>
<circle cx="390.8" cy="382.4" r="3.1" fill="#000"/>
<circle cx="401.3" cy="373.2" r="3.1" fill="#000"/>
<circle cx="405.5" cy="392.7" r="3.1" fill="#000"/>
<circle cx="413.8" cy="391.9" r="3.1" fill="#000"/>
<circle cx="349.8" cy="414.3" r="3.1" fill="#000"/>
<circle cx="350.8" cy="457.5" r="3.1" fill="#000"/>
<circle cx="264.7" cy="448.0" r="3.1" fill="#000"/>
<path d="M205.4 404.4L209.6 408.6M205.4 408.6L209.6 404.4" stroke="#2f7a32" stroke-width="1.1" fill="none"/>
<path d="M208.4 414.6L212.6 418.8M208.4 418.8L212.6 414.6" stroke="#2f7a32" stroke-width="1.1" fill="none"/>
<path d="M221.3 460.6L225.5 464.8M221.3 464.8L225.5 460.6" stroke="#2f7a32" stroke-width="1.1" fill="none"/>
<path d="M236.6 445.9L240.8 450.1M236.6 450.1L240.8 445.9" stroke="#2f7a32" stroke-width="1.1" fill="none"/>
<path d="M228.7 456.8L232.9 461.0M228.7 461.0L232.9 456.8" stroke="#2f7a32" stroke-width="1.1" fill="none"/>
<path d="M226.6 478.9L230.8 483.1M226.6 483.1L230.8 478.9" stroke="#2f7a32" stroke-width="1.1" fill="none"/>
<path d="M219.6 484.2L223.8 488.4M219.6 488.4L223.8 484.2" stroke="#2f7a32" stroke-width="1.1" fill="none"/>
<path d="M257.4 465.9L261.6 470.1M257.4 470.1L261.6 465.9" stroke="#2f7a32" stroke-width="1.1" fill="none"/>
<path d="M269.6 460.1L273.8 464.3M269.6 464.3L273.8 460.1" stroke="#2f7a32" stroke-width="1.1" fill="none"/>
<path d="M270.7 472.6L274.9 476.8M270.7 476.8L274.9 472.6" stroke="#2f7a32" stroke-width="1.1" fill="none"/>
<path d="M267.9 477.6L272.1 481.8M267.9 481.8L272.1 477.6" stroke="#2f7a32" stroke-width="1.1" fill="none"/>
<path d="M261.2 481.9L265.4 486.1M261.2 486.1L265.4 481.9" stroke="#2f7a32" stroke-width="1.1" fill="none"/>
<path d="M267.1 482.5L271.3 486.8M267.1 486.8L271.3 482.5" stroke="#2f7a32" stroke-width="1.1" fill="none"/>
<path d="M284.6 460.1L288.8 464.3M284.6 464.3L288.8 460.1" stroke="#2f7a32" stroke-width="1.1" fill="none"/>
<path d="M290.4 467.9L294.6 472.1M290.4 472.1L294.6 467.9" stroke="#2f7a32" stroke-width="1.1" fill="none"/>
<path d="M294.6 470.8L298.8 475.0M294.6 475.0L298.8 470.8" stroke="#2f7a32" stroke-width="1.1" fill="none"/>
<path d="M251.2 452.6L255.4 456.8M251.2 456.8L255.4 452.6" stroke="#2f7a32" stroke-width="1.1" fill="none"/>
<path d="M245.1 450.1L249.3 454.3M245.1 454.3L249.3 450.1" stroke="#2f7a32" stroke-width="1.1" fill="none"/>
<path d="M213.7 491.0L217.9 495.2M213.7 495.2L217.9 491.0" stroke="#2f7a32" stroke-width="1.1" fill="none"/>
<path d="M241.8 491.2L246.0 495.4M241.8 495.4L246.0 491.2" stroke="#2f7a32" stroke-width="1.1" fill="none"/>
<path d="M317.9 399.1L322.1 403.3M317.9 403.3L322.1 399.1" stroke="#2f7a32" stroke-width="1.1" fill="none"/>
<path d="M341.4 400.0L345.6 404.2M341.4 404.2L345.6 400.0" stroke="#2f7a32" stroke-width="1.1" fill="none"/>
<path d="M369.1 394.1L373.3 398.3M369.1 398.3L373.3 394.1" stroke="#2f7a32" stroke-width="1.1" fill="none"/>
<path d="M375.2 403.2L379.4 407.4M375.2 407.4L379.4 403.2" stroke="#2f7a32" stroke-width="1.1" fill="none"/>
<path d="M379.6 401.3L383.8 405.5M379.6 405.5L383.8 401.3" stroke="#2f7a32" stroke-width="1.1" fill="none"/>
<path d="M384.4 403.7L388.6 407.9M384.4 407.9L388.6 403.7" stroke="#2f7a32" stroke-width="1.1" fill="none"/>
<path d="M368.2 416.2L372.4 420.4M368.2 420.4L372.4 416.2" stroke="#2f7a32" stroke-width="1.1" fill="none"/>
<path d="M361.7 421.4L365.9 425.6M361.7 425.6L365.9 421.4" stroke="#2f7a32" stroke-width="1.1" fill="none"/>
<path d="M387.5 422.7L391.7 426.9M387.5 426.9L391.7 422.7" stroke="#2f7a32" stroke-width="1.1" fill="none"/>
<path d="M342.9 427.4L347.1 431.6M342.9 431.6L347.1 427.4" stroke="#2f7a32" stroke-width="1.1" fill="none"/>
<path d="M355.1 433.5L359.3 437.7M355.1 437.7L359.3 433.5" stroke="#2f7a32" stroke-width="1.1" fill="none"/>
<path d="M352.1 436.9L356.3 441.1M352.1 441.1L356.3 436.9" stroke="#2f7a32" stroke-width="1.1" fill="none"/>
<path d="M357.4 441.7L361.6 445.9M357.4 445.9L361.6 441.7" stroke="#2f7a32" stroke-width="1.1" fill="none"/>
<path d="M362.6 441.5L366.8 445.7M362.6 445.7L366.8 441.5" stroke="#2f7a32" stroke-width="1.1" fill="none"/>
<path d="M305.4 425.3L309.6 429.5M305.4 429.5L309.6 425.3" stroke="#2f7a32" stroke-width="1.1" fill="none"/>
<path d="M299.4 435.1L303.6 439.3M299.4 439.3L303.6 435.1" stroke="#2f7a32" stroke-width="1.1" fill="none"/>
<path d="M302.7 444.4L306.9 448.6M302.7 448.6L306.9 444.4" stroke="#2f7a32" stroke-width="1.1" fill="none"/>
<path d="M327.4 454.3L331.6 458.5M327.4 458.5L331.6 454.3" stroke="#2f7a32" stroke-width="1.1" fill="none"/>
<path d="M327.4 461.8L331.6 466.0M327.4 466.0L331.6 461.8" stroke="#2f7a32" stroke-width="1.1" fill="none"/>
<path d="M321.2 470.5L325.4 474.7M321.2 474.7L325.4 470.5" stroke="#2f7a32" stroke-width="1.1" fill="none"/>
<path d="M333.1 475.1L337.3 479.3M333.1 479.3L337.3 475.1" stroke="#2f7a32" stroke-width="1.1" fill="none"/>
<path d="M325.4 482.2L329.6 486.4M325.4 486.4L329.6 482.2" stroke="#2f7a32" stroke-width="1.1" fill="none"/>
<path d="M306.7 480.3L310.9 484.5M306.7 484.5L310.9 480.3" stroke="#2f7a32" stroke-width="1.1" fill="none"/>
<path d="M307.9 469.3L312.1 473.5M307.9 473.5L312.1 469.3" stroke="#2f7a32" stroke-width="1.1" fill="none"/>
<path d="M299.6 467.6L303.8 471.8M299.6 471.8L303.8 467.6" stroke="#2f7a32" stroke-width="1.1" fill="none"/>
<path d="M289.6 467.6L293.8 471.8M289.6 471.8L293.8 467.6" stroke="#2f7a32" stroke-width="1.1" fill="none"/>
<path d="M260.4 487.8L264.6 492.0M260.4 492.0L264.6 487.8" stroke="#2f7a32" stroke-width="1.1" fill="none"/>
<path d="M227.4 518.3L231.6 522.5M227.4 522.5L231.6 518.3" stroke="#2f7a32" stroke-width="1.1" fill="none"/>
<path d="M247.6 550.2L251.8 554.4M247.6 554.4L251.8 550.2" stroke="#2f7a32" stroke-width="1.1" fill="none"/>
<path d="M267.4 526.8L271.6 531.0M267.4 531.0L271.6 526.8" stroke="#2f7a32" stroke-width="1.1" fill="none"/>
<path d="M284.2 503.7L288.4 507.9M284.2 507.9L288.4 503.7" stroke="#2f7a32" stroke-width="1.1" fill="none"/>
<path d="M303.2 497.5L307.4 501.7M303.2 501.7L307.4 497.5" stroke="#2f7a32" stroke-width="1.1" fill="none"/>
<path d="M292.1 497.5L296.3 501.7M292.1 501.7L296.3 497.5" stroke="#2f7a32" stroke-width="1.1" fill="none"/>
<path d="M291.2 493.3L295.4 497.5M291.2 497.5L295.4 493.3" stroke="#2f7a32" stroke-width="1.1" fill="none"/>
<path d="M280.4 495.0L284.6 499.2M280.4 499.2L284.6 495.0" stroke="#2f7a32" stroke-width="1.1" fill="none"/>
<path d="M372.1 355.9L376.3 360.1M372.1 360.1L376.3 355.9" stroke="#2f7a32" stroke-width="1.1" fill="none"/>
<path d="M403.4 356.6L407.6 360.8M403.4 360.8L407.6 356.6" stroke="#2f7a32" stroke-width="1.1" fill="none"/>
<path d="M424.6 364.1L428.8 368.3M424.6 368.3L428.8 364.1" stroke="#2f7a32" stroke-width="1.1" fill="none"/>
<path d="M386.2 368.6L390.4 372.8M386.2 372.8L390.4 368.6" stroke="#2f7a32" stroke-width="1.1" fill="none"/>
<path d="M380.4 373.3L384.6 377.5M380.4 377.5L384.6 373.3" stroke="#2f7a32" stroke-width="1.1" fill="none"/>
<path d="M376.1 375.3L380.3 379.5M376.1 379.5L380.3 375.3" stroke="#2f7a32" stroke-width="1.1" fill="none"/>
<path d="M412.1 373.1L416.3 377.3M412.1 377.3L416.3 373.1" stroke="#2f7a32" stroke-width="1.1" fill="none"/>
<path d="M420.4 374.6L424.6 378.8M420.4 378.8L424.6 374.6" stroke="#2f7a32" stroke-width="1.1" fill="none"/>
<path d="M399.6 372.0L403.8 376.2M399.6 376.2L403.8 372.0" stroke="#2f7a32" stroke-width="1.1" fill="none"/>
<path d="M397.9 376.3L402.1 380.5M397.9 380.5L402.1 376.3" stroke="#2f7a32" stroke-width="1.1" fill="none"/>
<path d="M357.6 379.5L361.8 383.7M357.6 383.7L361.8 379.5" stroke="#2f7a32" stroke-width="1.1" fill="none"/>
<path d="M360.4 380.9L364.6 385.1M360.4 385.1L364.6 380.9" stroke="#2f7a32" stroke-width="1.1" fill="none"/>
<path d="M333.7 380.8L337.9 385.0M333.7 385.0L337.9 380.8" stroke="#2f7a32" stroke-width="1.1" fill="none"/>
<path d="M408.6 384.8L412.8 389.0M408.6 389.0L412.8 384.8" stroke="#2f7a32" stroke-width="1.1" fill="none"/>
<path d="M373.3 387.4L377.5 391.6M373.3 391.6L377.5 387.4" stroke="#2f7a32" stroke-width="1.1" fill="none"/>
<path d="M362.9 391.1L367.1 395.3M362.9 395.3L367.1 391.1" stroke="#2f7a32" stroke-width="1.1" fill="none"/>
<path d="M422.6 391.3L426.8 395.5M422.6 395.5L426.8 391.3" stroke="#2f7a32" stroke-width="1.1" fill="none"/>
<path d="M412.1 390.5L416.3 394.7M412.1 394.7L416.3 390.5" stroke="#2f7a32" stroke-width="1.1" fill="none"/>
<path d="M392.1 401.6L396.3 405.8M392.1 405.8L396.3 401.6" stroke="#2f7a32" stroke-width="1.1" fill="none"/>
<path d="M451.7 341.2L455.9 345.4M451.7 345.4L455.9 341.2" stroke="#2f7a32" stroke-width="1.1" fill="none"/>
<path d="M437.6 357.4L441.8 361.6M437.6 361.6L441.8 357.4" stroke="#2f7a32" stroke-width="1.1" fill="none"/>
<path d="M273.4 376.5L277.6 380.7M273.4 380.7L277.6 376.5" stroke="#2f7a32" stroke-width="1.1" fill="none"/>
<path d="M347.1 412.7L351.3 416.9M347.1 416.9L351.3 412.7" stroke="#2f7a32" stroke-width="1.1" fill="none"/>
<rect x="189.5" y="515.4" width="4.4" height="4.4" fill="none" stroke="#2f7a32" stroke-width="1.1"/>
<rect x="220.6" y="489.7" width="4.4" height="4.4" fill="none" stroke="#2f7a32" stroke-width="1.1"/>
<rect x="227.8" y="500.7" width="4.4" height="4.4" fill="none" stroke="#2f7a32" stroke-width="1.1"/>
<rect x="239.1" y="502.4" width="4.4" height="4.4" fill="none" stroke="#2f7a32" stroke-width="1.1"/>
<rect x="257.3" y="500.9" width="4.4" height="4.4" fill="none" stroke="#2f7a32" stroke-width="1.1"/>
<rect x="239.1" y="512.9" width="4.4" height="4.4" fill="none" stroke="#2f7a32" stroke-width="1.1"/>
<rect x="216.5" y="517.1" width="4.4" height="4.4" fill="none" stroke="#2f7a32" stroke-width="1.1"/>
<rect x="224.5" y="521.9" width="4.4" height="4.4" fill="none" stroke="#2f7a32" stroke-width="1.1"/>
<rect x="248.3" y="521.2" width="4.4" height="4.4" fill="none" stroke="#2f7a32" stroke-width="1.1"/>
<rect x="218.6" y="527.0" width="4.4" height="4.4" fill="none" stroke="#2f7a32" stroke-width="1.1"/>
<rect x="227.8" y="530.3" width="4.4" height="4.4" fill="none" stroke="#2f7a32" stroke-width="1.1"/>
<rect x="247.0" y="534.0" width="4.4" height="4.4" fill="none" stroke="#2f7a32" stroke-width="1.1"/>
<rect x="218.6" y="536.0" width="4.4" height="4.4" fill="none" stroke="#2f7a32" stroke-width="1.1"/>
<rect x="214.1" y="543.6" width="4.4" height="4.4" fill="none" stroke="#2f7a32" stroke-width="1.1"/>
<rect x="272.3" y="488.2" width="4.4" height="4.4" fill="none" stroke="#2f7a32" stroke-width="1.1"/>
<rect x="282.8" y="487.9" width="4.4" height="4.4" fill="none" stroke="#2f7a32" stroke-width="1.1"/>
<rect x="279.0" y="522.1" width="4.4" height="4.4" fill="none" stroke="#2f7a32" stroke-width="1.1"/>
<rect x="271.9" y="467.3" width="4.8" height="4.8" fill="#fffaf4" stroke="#c8662e" stroke-width="1.1"/>
<rect x="268.2" y="480.1" width="4.8" height="4.8" fill="#fffaf4" stroke="#c8662e" stroke-width="1.1"/>
<rect x="250.2" y="483.5" width="4.8" height="4.8" fill="#fffaf4" stroke="#c8662e" stroke-width="1.1"/>
<rect x="341.5" y="464.6" width="4.8" height="4.8" fill="#fffaf4" stroke="#c8662e" stroke-width="1.1"/>
<rect x="368.5" y="452.8" width="4.8" height="4.8" fill="#fffaf4" stroke="#c8662e" stroke-width="1.1"/>
<rect x="391.0" y="482.0" width="4.8" height="4.8" fill="#fffaf4" stroke="#c8662e" stroke-width="1.1"/>
<rect x="359.7" y="467.1" width="4.8" height="4.8" fill="#fffaf4" stroke="#c8662e" stroke-width="1.1"/>
<rect x="368.5" y="501.4" width="4.8" height="4.8" fill="#fffaf4" stroke="#c8662e" stroke-width="1.1"/>
<rect x="353.2" y="508.0" width="4.8" height="4.8" fill="#fffaf4" stroke="#c8662e" stroke-width="1.1"/>
<path d="M210.8 460.5L217.8 460.5M210.8 456.7L210.8 464.3M217.8 456.7L217.8 464.3M214.3 452.5L214.3 468.5M210.5 452.5L218.1 452.5M210.5 468.5L218.1 468.5" stroke="#6c6ce6" stroke-width="0.8" fill="none"/>
<path d="M211.0 462.7L237.6 462.7M211.0 458.9L211.0 466.5M237.6 458.9L237.6 466.5M224.3 457.2L224.3 469.7M220.5 457.2L228.1 457.2M220.5 469.7L228.1 469.7" stroke="#6c6ce6" stroke-width="0.8" fill="none"/>
<path d="M227.1 460.1L244.1 460.1M227.1 456.3L227.1 463.9M244.1 456.3L244.1 463.9M232.1 457.1L232.1 463.1M228.3 457.1L235.9 457.1M228.3 463.1L235.9 463.1" stroke="#6c6ce6" stroke-width="0.8" fill="none"/>
<path d="M216.0 423.5L369.6 423.5M216.0 419.7L216.0 427.3M369.6 419.7L369.6 427.3M292.6 415.2L292.6 432.2M288.8 415.2L296.4 415.2M288.8 432.2L296.4 432.2" stroke="#6c6ce6" stroke-width="0.8" fill="none"/>
<path d="M259.6 452.5L290.8 452.5M259.6 448.7L259.6 456.3M290.8 448.7L290.8 456.3M277.3 448.5L277.3 456.5M273.5 448.5L281.1 448.5M273.5 456.5L281.1 456.5" stroke="#6c6ce6" stroke-width="0.8" fill="none"/>
<path d="M287.7 451.2L300.7 451.2M287.7 447.4L287.7 455.0M300.7 447.4L300.7 455.0M294.2 438.2L294.2 464.5M290.4 438.2L298.0 438.2M290.4 464.5L298.0 464.5" stroke="#6c6ce6" stroke-width="0.8" fill="none"/>
<path d="M297.8 451.0L297.8 461.0M294.0 451.0L301.6 451.0M294.0 461.0L301.6 461.0" stroke="#6c6ce6" stroke-width="0.8" fill="none"/>
<path d="M310.4 448.9L326.4 448.9M310.4 445.1L310.4 452.7M326.4 445.1L326.4 452.7" stroke="#6c6ce6" stroke-width="0.8" fill="none"/>
<path d="M330.4 440.6L336.4 440.6M330.4 436.8L330.4 444.4M336.4 436.8L336.4 444.4M333.4 437.6L333.4 443.6M329.6 437.6L337.2 437.6M329.6 443.6L337.2 443.6" stroke="#6c6ce6" stroke-width="0.8" fill="none"/>
<path d="M338.8 440.1L344.8 440.1M338.8 436.3L338.8 443.9M344.8 436.3L344.8 443.9M341.8 437.1L341.8 443.1M338.0 437.1L345.6 437.1M338.0 443.1L345.6 443.1" stroke="#6c6ce6" stroke-width="0.8" fill="none"/>
<path d="M307.9 460.0L325.4 460.0M307.9 456.2L307.9 463.8M325.4 456.2L325.4 463.8" stroke="#6c6ce6" stroke-width="0.8" fill="none"/>
<path d="M326.8 454.7L342.8 454.7M326.8 450.9L326.8 458.5M342.8 450.9L342.8 458.5" stroke="#6c6ce6" stroke-width="0.8" fill="none"/>
<path d="M326.1 458.5L342.1 458.5M326.1 454.7L326.1 462.3M342.1 454.7L342.1 462.3" stroke="#6c6ce6" stroke-width="0.8" fill="none"/>
<path d="M296.4 472.2L316.4 472.2M296.4 468.4L296.4 476.0M316.4 468.4L316.4 476.0M306.4 464.2L306.4 480.2M302.6 464.2L310.2 464.2M302.6 480.2L310.2 480.2" stroke="#6c6ce6" stroke-width="0.8" fill="none"/>
<path d="M293.1 471.4L343.1 471.4M293.1 467.6L293.1 475.2M343.1 467.6L343.1 475.2M313.1 463.4L313.1 479.4M309.3 463.4L316.9 463.4M309.3 479.4L316.9 479.4" stroke="#6c6ce6" stroke-width="0.8" fill="none"/>
<path d="M328.4 477.3L334.4 477.3M328.4 473.5L328.4 481.1M334.4 473.5L334.4 481.1M331.4 470.8L331.4 483.8M327.6 470.8L335.2 470.8M327.6 483.8L335.2 483.8" stroke="#6c6ce6" stroke-width="0.8" fill="none"/>
<path d="M283.9 482.3L293.9 482.3M283.9 478.5L283.9 486.1M293.9 478.5L293.9 486.1M288.9 475.7L288.9 490.7M285.1 475.7L292.7 475.7M285.1 490.7L292.7 490.7" stroke="#6c6ce6" stroke-width="0.8" fill="none"/>
<path d="M262.9 474.4L270.9 474.4M262.9 470.6L262.9 478.2M270.9 470.6L270.9 478.2M266.9 466.4L266.9 478.4M263.1 466.4L270.7 466.4M263.1 478.4L270.7 478.4" stroke="#6c6ce6" stroke-width="0.8" fill="none"/>
<path d="M261.1 479.4L267.1 479.4M261.1 475.6L261.1 483.2M267.1 475.6L267.1 483.2M264.1 476.4L264.1 482.4M260.3 476.4L267.9 476.4M260.3 482.4L267.9 482.4" stroke="#6c6ce6" stroke-width="0.8" fill="none"/>
<path d="M313.9 487.3L313.9 495.3M310.1 487.3L317.7 487.3M310.1 495.3L317.7 495.3" stroke="#6c6ce6" stroke-width="0.8" fill="none"/>
<path d="M345.4 405.6L350.4 405.6M345.4 401.8L345.4 409.4M350.4 401.8L350.4 409.4M347.9 400.1L347.9 411.1M344.1 400.1L351.7 400.1M344.1 411.1L351.7 411.1" stroke="#6c6ce6" stroke-width="0.8" fill="none"/>
<path d="M371.1 417.3L379.1 417.3M371.1 413.5L371.1 421.1M379.1 413.5L379.1 421.1M375.1 408.8L375.1 426.3M371.3 408.8L378.9 408.8M371.3 426.3L378.9 426.3" stroke="#6c6ce6" stroke-width="0.8" fill="none"/>
<path d="M361.6 447.7L370.6 447.7M361.6 443.9L361.6 451.5M370.6 443.9L370.6 451.5M366.1 442.2L366.1 453.2M362.3 442.2L369.9 442.2M362.3 453.2L369.9 453.2" stroke="#6c6ce6" stroke-width="0.8" fill="none"/>
<path d="M353.1 479.3L376.6 479.3M353.1 475.5L353.1 483.1M376.6 475.5L376.6 483.1M365.0 475.3L365.0 483.3M361.2 475.3L368.8 475.3M361.2 483.3L368.8 483.3" stroke="#6c6ce6" stroke-width="0.8" fill="none"/>
<path d="M367.1 491.3L367.1 496.3M363.3 491.3L370.9 491.3M363.3 496.3L370.9 496.3" stroke="#6c6ce6" stroke-width="0.8" fill="none"/>
<path d="M300.9 497.4L306.9 497.4M300.9 493.6L300.9 501.2M306.9 493.6L306.9 501.2M303.9 489.4L303.9 505.4M300.1 489.4L307.7 489.4M300.1 505.4L307.7 505.4" stroke="#6c6ce6" stroke-width="0.8" fill="none"/>
<circle cx="214.3" cy="460.5" r="3.6" fill="#e8e8ff" fill-opacity="0.3" stroke="#1c1cd0" stroke-width="1.3"/>
<circle cx="224.3" cy="462.7" r="3.6" fill="#e8e8ff" fill-opacity="0.3" stroke="#1c1cd0" stroke-width="1.3"/>
<circle cx="232.1" cy="460.1" r="3.6" fill="#e8e8ff" fill-opacity="0.3" stroke="#1c1cd0" stroke-width="1.3"/>
<circle cx="273.1" cy="428.6" r="3.6" fill="#e8e8ff" fill-opacity="0.3" stroke="#1c1cd0" stroke-width="1.3"/>
<circle cx="273.1" cy="428.6" r="1.4" fill="#000"/>
<circle cx="292.6" cy="423.5" r="3.6" fill="#e8e8ff" fill-opacity="0.3" stroke="#1c1cd0" stroke-width="1.3"/>
<circle cx="341.4" cy="417.5" r="3.6" fill="#e8e8ff" fill-opacity="0.3" stroke="#1c1cd0" stroke-width="1.3"/>
<circle cx="341.4" cy="417.5" r="1.4" fill="#000"/>
<circle cx="277.3" cy="452.5" r="3.6" fill="#e8e8ff" fill-opacity="0.3" stroke="#1c1cd0" stroke-width="1.3"/>
<circle cx="294.2" cy="451.2" r="3.6" fill="#e8e8ff" fill-opacity="0.3" stroke="#1c1cd0" stroke-width="1.3"/>
<circle cx="297.8" cy="456.0" r="3.6" fill="#e8e8ff" fill-opacity="0.3" stroke="#1c1cd0" stroke-width="1.3"/>
<circle cx="318.4" cy="448.9" r="3.6" fill="#e8e8ff" fill-opacity="0.3" stroke="#1c1cd0" stroke-width="1.3"/>
<circle cx="318.4" cy="448.9" r="1.4" fill="#000"/>
<circle cx="325.6" cy="444.3" r="3.6" fill="#e8e8ff" fill-opacity="0.3" stroke="#1c1cd0" stroke-width="1.3"/>
<circle cx="325.6" cy="444.3" r="1.4" fill="#000"/>
<circle cx="333.4" cy="440.6" r="3.6" fill="#e8e8ff" fill-opacity="0.3" stroke="#1c1cd0" stroke-width="1.3"/>
<circle cx="341.8" cy="440.1" r="3.6" fill="#e8e8ff" fill-opacity="0.3" stroke="#1c1cd0" stroke-width="1.3"/>
<circle cx="313.4" cy="460.0" r="3.6" fill="#e8e8ff" fill-opacity="0.3" stroke="#1c1cd0" stroke-width="1.3"/>
<circle cx="313.4" cy="460.0" r="1.4" fill="#000"/>
<circle cx="334.8" cy="454.7" r="3.6" fill="#e8e8ff" fill-opacity="0.3" stroke="#1c1cd0" stroke-width="1.3"/>
<circle cx="334.1" cy="458.5" r="3.6" fill="#e8e8ff" fill-opacity="0.3" stroke="#1c1cd0" stroke-width="1.3"/>
<circle cx="334.1" cy="458.5" r="1.4" fill="#000"/>
<circle cx="306.4" cy="472.2" r="3.6" fill="#e8e8ff" fill-opacity="0.3" stroke="#1c1cd0" stroke-width="1.3"/>
<circle cx="313.1" cy="471.4" r="3.6" fill="#e8e8ff" fill-opacity="0.3" stroke="#1c1cd0" stroke-width="1.3"/>
<circle cx="331.4" cy="477.3" r="3.6" fill="#e8e8ff" fill-opacity="0.3" stroke="#1c1cd0" stroke-width="1.3"/>
<circle cx="288.9" cy="482.3" r="3.6" fill="#e8e8ff" fill-opacity="0.3" stroke="#1c1cd0" stroke-width="1.3"/>
<circle cx="266.9" cy="474.4" r="3.6" fill="#e8e8ff" fill-opacity="0.3" stroke="#1c1cd0" stroke-width="1.3"/>
<circle cx="264.1" cy="479.4" r="3.6" fill="#e8e8ff" fill-opacity="0.3" stroke="#1c1cd0" stroke-width="1.3"/>
<circle cx="313.9" cy="491.3" r="3.6" fill="#e0122e" fill-opacity="1" stroke="#1c1cd0" stroke-width="1.3"/>
<circle cx="313.9" cy="491.3" r="1.4" fill="#000"/>
<circle cx="342.5" cy="491.3" r="3.6" fill="#e8e8ff" fill-opacity="0.3" stroke="#1c1cd0" stroke-width="1.3"/>
<circle cx="342.5" cy="491.3" r="1.4" fill="#000"/>
<circle cx="324.4" cy="491.3" r="3.6" fill="#e8e8ff" fill-opacity="0.3" stroke="#1c1cd0" stroke-width="1.3"/>
<circle cx="324.4" cy="491.3" r="1.4" fill="#000"/>
<circle cx="347.9" cy="405.6" r="3.6" fill="#e8e8ff" fill-opacity="0.3" stroke="#1c1cd0" stroke-width="1.3"/>
<circle cx="375.1" cy="417.3" r="3.6" fill="#e0122e" fill-opacity="1" stroke="#1c1cd0" stroke-width="1.3"/>
<circle cx="375.1" cy="417.3" r="1.4" fill="#000"/>
<circle cx="366.1" cy="447.7" r="3.6" fill="#e8e8ff" fill-opacity="0.3" stroke="#1c1cd0" stroke-width="1.3"/>
<circle cx="360.3" cy="470.0" r="3.6" fill="#e8e8ff" fill-opacity="0.3" stroke="#1c1cd0" stroke-width="1.3"/>
<circle cx="360.3" cy="470.0" r="1.4" fill="#000"/>
<circle cx="365.0" cy="479.3" r="3.6" fill="#e8e8ff" fill-opacity="0.3" stroke="#1c1cd0" stroke-width="1.3"/>
<circle cx="365.0" cy="479.3" r="1.4" fill="#000"/>
<circle cx="363.2" cy="487.8" r="3.6" fill="#e8e8ff" fill-opacity="0.3" stroke="#1c1cd0" stroke-width="1.3"/>
<circle cx="363.2" cy="487.8" r="1.4" fill="#000"/>
<circle cx="367.1" cy="491.3" r="3.6" fill="#e0122e" fill-opacity="1" stroke="#1c1cd0" stroke-width="1.3"/>
<circle cx="367.1" cy="491.3" r="1.4" fill="#000"/>
<circle cx="303.9" cy="497.4" r="3.6" fill="#e8e8ff" fill-opacity="0.3" stroke="#1c1cd0" stroke-width="1.3"/>
<path d="M384.4 411.2L387.5 416.9L381.3 416.9Z" fill="#fff0f0" fill-opacity="0.6" stroke="#e0122e" stroke-width="1.25" stroke-linejoin="miter"/>
<path d="M354.8 430.0L357.9 435.7L351.7 435.7Z" fill="#fff0f0" fill-opacity="0.6" stroke="#e0122e" stroke-width="1.25" stroke-linejoin="miter"/>
<path d="M353.9 433.5L357.0 439.2L350.8 439.2Z" fill="#fff0f0" fill-opacity="0.6" stroke="#e0122e" stroke-width="1.25" stroke-linejoin="miter"/>
<path d="M393.4 442.1L396.5 447.8L390.3 447.8Z" fill="#fff0f0" fill-opacity="0.6" stroke="#e0122e" stroke-width="1.25" stroke-linejoin="miter"/>
<path d="M401.8 442.1L404.9 447.8L398.7 447.8Z" fill="#fff0f0" fill-opacity="0.6" stroke="#e0122e" stroke-width="1.25" stroke-linejoin="miter"/>
<path d="M350.3 460.1L353.4 465.8L347.2 465.8Z" fill="#fff0f0" fill-opacity="0.6" stroke="#e0122e" stroke-width="1.25" stroke-linejoin="miter"/>
<path d="M323.4 492.1L326.5 497.8L320.3 497.8Z" fill="#fff0f0" fill-opacity="0.6" stroke="#e0122e" stroke-width="1.25" stroke-linejoin="miter"/>
</g>
<path d="M79.5 0.4H598.5V569.7H79.5Z M79.5 286.2H598.5" fill="none" stroke="#2a2a2a" stroke-width="1.4"/>
<path d="M79.5 20.3h13M598.5 20.3h-13M79.5 44.8h6.3M598.5 44.8h-6.3M79.5 79.3h13M598.5 79.3h-13M79.5 138.3h13M598.5 138.3h-13M79.5 147.3h6.3M598.5 147.3h-6.3M79.5 157.3h13M598.5 157.3h-13M79.5 168.7h6.3M598.5 168.7h-6.3M79.5 181.8h13M598.5 181.8h-13M79.5 197.3h6.3M598.5 197.3h-6.3M79.5 216.3h13M598.5 216.3h-13M79.5 240.8h6.3M598.5 240.8h-6.3M79.5 275.3h13M598.5 275.3h-13M79.5 305.4h13M598.5 305.4h-13M79.5 329.8h6.3M598.5 329.8h-6.3M79.5 364.3h13M598.5 364.3h-13M79.5 423.1h13M598.5 423.1h-13M79.5 432.1h6.3M598.5 432.1h-6.3M79.5 442.1h13M598.5 442.1h-13M79.5 453.4h6.3M598.5 453.4h-6.3M79.5 466.5h13M598.5 466.5h-13M79.5 482.0h6.3M598.5 482.0h-6.3M79.5 500.9h13M598.5 500.9h-13M79.5 525.3h6.3M598.5 525.3h-6.3M79.5 559.8h13M598.5 559.8h-13M97.6 286.2v6M97.6 569.7v-6.5M120.4 0.4v6.3M120.4 286.2v-6.3M120.4 286.2v6M120.4 569.7v-6.5M143.2 286.2v6M143.2 569.7v-6.5M166.0 0.4v13M166.0 286.2v-13M166.0 286.2v11.5M166.0 569.7v-13M188.8 286.2v6M188.8 569.7v-6.5M211.6 0.4v6.3M211.6 286.2v-6.3M211.6 286.2v6M211.6 569.7v-6.5M234.4 286.2v6M234.4 569.7v-6.5M257.2 0.4v13M257.2 286.2v-13M257.2 286.2v11.5M257.2 569.7v-13M280.1 286.2v6M280.1 569.7v-6.5M302.9 0.4v6.3M302.9 286.2v-6.3M302.9 286.2v6M302.9 569.7v-6.5M325.7 286.2v6M325.7 569.7v-6.5M348.5 0.4v13M348.5 286.2v-13M348.5 286.2v11.5M348.5 569.7v-13M371.3 286.2v6M371.3 569.7v-6.5M394.1 0.4v6.3M394.1 286.2v-6.3M394.1 286.2v6M394.1 569.7v-6.5M416.9 286.2v6M416.9 569.7v-6.5M439.8 0.4v13M439.8 286.2v-13M439.8 286.2v11.5M439.8 569.7v-13M462.6 286.2v6M462.6 569.7v-6.5M485.4 0.4v6.3M485.4 286.2v-6.3M485.4 286.2v6M485.4 569.7v-6.5M508.2 286.2v6M508.2 569.7v-6.5M531.0 0.4v13M531.0 286.2v-13M531.0 286.2v11.5M531.0 569.7v-13M553.8 286.2v6M553.8 569.7v-6.5M576.6 0.4v6.3M576.6 286.2v-6.3M576.6 286.2v6M576.6 569.7v-6.5M599.4 286.2v6M599.4 569.7v-6.5" fill="none" stroke="#2a2a2a" stroke-width="1.25"/>
<g opacity="0.999">
<text x="32.9" y="26.9" font-size="18.8" fill="#363636" textLength="34.7" lengthAdjust="spacingAndGlyphs">400</text>
<text x="32.9" y="85.9" font-size="18.8" fill="#363636" textLength="34.7" lengthAdjust="spacingAndGlyphs">200</text>
<text x="32.9" y="144.9" font-size="18.8" fill="#363636" textLength="34.7" lengthAdjust="spacingAndGlyphs">100</text>
<text x="44.5" y="163.9" font-size="18.8" fill="#363636" textLength="23.1" lengthAdjust="spacingAndGlyphs">80</text>
<text x="44.5" y="188.4" font-size="18.8" fill="#363636" textLength="23.1" lengthAdjust="spacingAndGlyphs">60</text>
<text x="44.5" y="222.9" font-size="18.8" fill="#363636" textLength="23.1" lengthAdjust="spacingAndGlyphs">40</text>
<text x="44.5" y="281.9" font-size="18.8" fill="#363636" textLength="23.1" lengthAdjust="spacingAndGlyphs">20</text>
<text x="32.9" y="312.0" font-size="18.8" fill="#363636" textLength="34.7" lengthAdjust="spacingAndGlyphs">400</text>
<text x="32.9" y="370.9" font-size="18.8" fill="#363636" textLength="34.7" lengthAdjust="spacingAndGlyphs">200</text>
<text x="32.9" y="429.7" font-size="18.8" fill="#363636" textLength="34.7" lengthAdjust="spacingAndGlyphs">100</text>
<text x="44.5" y="448.7" font-size="18.8" fill="#363636" textLength="23.1" lengthAdjust="spacingAndGlyphs">80</text>
<text x="44.5" y="473.1" font-size="18.8" fill="#363636" textLength="23.1" lengthAdjust="spacingAndGlyphs">60</text>
<text x="44.5" y="507.5" font-size="18.8" fill="#363636" textLength="23.1" lengthAdjust="spacingAndGlyphs">40</text>
<text x="44.5" y="566.4" font-size="18.8" fill="#363636" textLength="23.1" lengthAdjust="spacingAndGlyphs">20</text>
<path d="M147.4 588.3h11.3" stroke="#363636" stroke-width="1.1" fill="none"/>
<text x="160.7" y="593.4" font-size="18.8" fill="#363636" textLength="24.2" lengthAdjust="spacingAndGlyphs">16</text>
<path d="M238.7 588.3h11.3" stroke="#363636" stroke-width="1.1" fill="none"/>
<text x="251.9" y="593.4" font-size="18.8" fill="#363636" textLength="24.2" lengthAdjust="spacingAndGlyphs">18</text>
<path d="M329.9 588.3h11.3" stroke="#363636" stroke-width="1.1" fill="none"/>
<text x="343.2" y="593.4" font-size="18.8" fill="#363636" textLength="24.2" lengthAdjust="spacingAndGlyphs">20</text>
<path d="M421.1 588.3h11.3" stroke="#363636" stroke-width="1.1" fill="none"/>
<text x="434.5" y="593.4" font-size="18.8" fill="#363636" textLength="24.2" lengthAdjust="spacingAndGlyphs">22</text>
<path d="M512.4 588.3h11.3" stroke="#363636" stroke-width="1.1" fill="none"/>
<text x="525.7" y="593.4" font-size="18.8" fill="#363636" textLength="24.2" lengthAdjust="spacingAndGlyphs">24</text>
<text x="292.0" y="619.8" font-size="19.4" fill="#363636" font-style="italic" textLength="15.5" lengthAdjust="spacingAndGlyphs">M</text>
<text x="307.3" y="625.3" font-size="12.5" fill="#363636" font-style="italic" textLength="5.0" lengthAdjust="spacingAndGlyphs">I</text>
<text x="325.0" y="619.6" font-size="21" fill="#363636" textLength="5.8" lengthAdjust="spacingAndGlyphs">(</text>
<text x="333.3" y="619.8" font-size="19.4" fill="#363636" textLength="41.2" lengthAdjust="spacingAndGlyphs">mag</text>
<text x="376.7" y="619.6" font-size="21" fill="#363636" textLength="5.8" lengthAdjust="spacingAndGlyphs">)</text>
<g transform="translate(15.8 198) rotate(-90)">
<text x="0.6" y="0.0" font-size="20.5" fill="#363636" font-style="italic" textLength="10.5" lengthAdjust="spacingAndGlyphs">σ</text>
<text x="24.0" y="-0.3" font-size="21.5" fill="#363636" textLength="5.8" lengthAdjust="spacingAndGlyphs">(</text>
<text x="31.7" y="0.0" font-size="19.6" fill="#363636" textLength="29.6" lengthAdjust="spacingAndGlyphs">km</text>
<text x="75.2" y="0.0" font-size="19.6" fill="#363636" textLength="7.2" lengthAdjust="spacingAndGlyphs">s</text>
<text x="85.7" y="-5.8" font-size="11.5" fill="#363636" textLength="6.7" lengthAdjust="spacingAndGlyphs">−</text>
<text x="93.9" y="-5.8" font-size="11.5" fill="#363636" textLength="4.7" lengthAdjust="spacingAndGlyphs">1</text>
<text x="102.5" y="-0.3" font-size="21.5" fill="#363636" textLength="5.4" lengthAdjust="spacingAndGlyphs">)</text>
</g>
<g transform="translate(15.8 483.0) rotate(-90)">
<text x="0.6" y="0.0" font-size="20.5" fill="#363636" font-style="italic" textLength="10.5" lengthAdjust="spacingAndGlyphs">σ</text>
<text x="24.0" y="-0.3" font-size="21.5" fill="#363636" textLength="5.8" lengthAdjust="spacingAndGlyphs">(</text>
<text x="31.7" y="0.0" font-size="19.6" fill="#363636" textLength="29.6" lengthAdjust="spacingAndGlyphs">km</text>
<text x="75.2" y="0.0" font-size="19.6" fill="#363636" textLength="7.2" lengthAdjust="spacingAndGlyphs">s</text>
<text x="85.7" y="-5.8" font-size="11.5" fill="#363636" textLength="6.7" lengthAdjust="spacingAndGlyphs">−</text>
<text x="93.9" y="-5.8" font-size="11.5" fill="#363636" textLength="4.7" lengthAdjust="spacingAndGlyphs">1</text>
<text x="102.5" y="-0.3" font-size="21.5" fill="#363636" textLength="5.4" lengthAdjust="spacingAndGlyphs">)</text>
</g>
<circle cx="99.2" cy="17.3" r="2.9" fill="none" stroke="#5a5ae0" stroke-width="0.9"/>
<text x="119.6" y="22.3" font-size="16.4" fill="#4a4ad2" textLength="45.3" lengthAdjust="spacingAndGlyphs">Disks</text>
<path d="M99.2 43.3L102.6 49.5L95.8 49.5Z" fill="none" stroke="#e0122e" stroke-width="1.2"/>
<text x="119.6" y="52.2" font-size="16.4" fill="#e25364" textLength="21.2" lengthAdjust="spacingAndGlyphs">No</text>
<text x="151.5" y="52.2" font-size="16.4" fill="#e25364" textLength="34.4" lengthAdjust="spacingAndGlyphs">disk</text>
<rect x="96.6" y="75.1" width="4.4" height="4.4" fill="none" stroke="#2f7a32" stroke-width="1.1"/>
<text x="119.6" y="82.3" font-size="16.4" fill="#2f7a32" textLength="42.3" lengthAdjust="spacingAndGlyphs">Geha</text>
<text x="172.8" y="82.3" font-size="16.4" fill="#2f7a32" textLength="16.0" lengthAdjust="spacingAndGlyphs">et</text>
<text x="198.7" y="82.3" font-size="16.4" fill="#2f7a32" textLength="20.0" lengthAdjust="spacingAndGlyphs">al.</text>
<circle cx="98.8" cy="304.3" r="2.9" fill="#000"/>
<text x="120.2" y="308.4" font-size="16.4" fill="#4a4a4a" textLength="86.8" lengthAdjust="spacingAndGlyphs">Ellipticals</text>
<rect x="96.8" y="331.5" width="4.4" height="4.4" fill="none" stroke="#c8662e" stroke-width="1.1"/>
<text x="120.2" y="339.9" font-size="16.4" fill="#cc8560" textLength="61.6" lengthAdjust="spacingAndGlyphs">Greene</text>
<text x="191.8" y="339.9" font-size="16.4" fill="#cc8560" textLength="15.2" lengthAdjust="spacingAndGlyphs">et</text>
<text x="217.8" y="339.9" font-size="16.4" fill="#cc8560" textLength="18.2" lengthAdjust="spacingAndGlyphs">al.</text>
<path d="M96.9 362.5L101.1 366.7M96.9 366.7L101.1 362.5" stroke="#2f7a32" stroke-width="1.1" fill="none"/>
<text x="120.4" y="370.3" font-size="16.4" fill="#2f7a32" textLength="66.5" lengthAdjust="spacingAndGlyphs">Matkovi</text>
<text x="191.9" y="370.3" font-size="16.4" fill="#2f7a32" textLength="7.4" lengthAdjust="spacingAndGlyphs">c</text>
<text x="209.7" y="370.3" font-size="16.4" fill="#2f7a32" textLength="13.0" lengthAdjust="spacingAndGlyphs">&amp;</text>
<text x="231.2" y="370.3" font-size="16.4" fill="#2f7a32" textLength="46.6" lengthAdjust="spacingAndGlyphs">Guzm</text>
<text x="283.6" y="370.3" font-size="16.4" fill="#2f7a32" textLength="20.2" lengthAdjust="spacingAndGlyphs">an</text>
<path d="M189.9 358.1L188.5 363.4M281.5 358.1L280.1 363.4" stroke="#2f7a32" stroke-width="1.1" fill="none"/>
</g>
</svg>
</body></html>
